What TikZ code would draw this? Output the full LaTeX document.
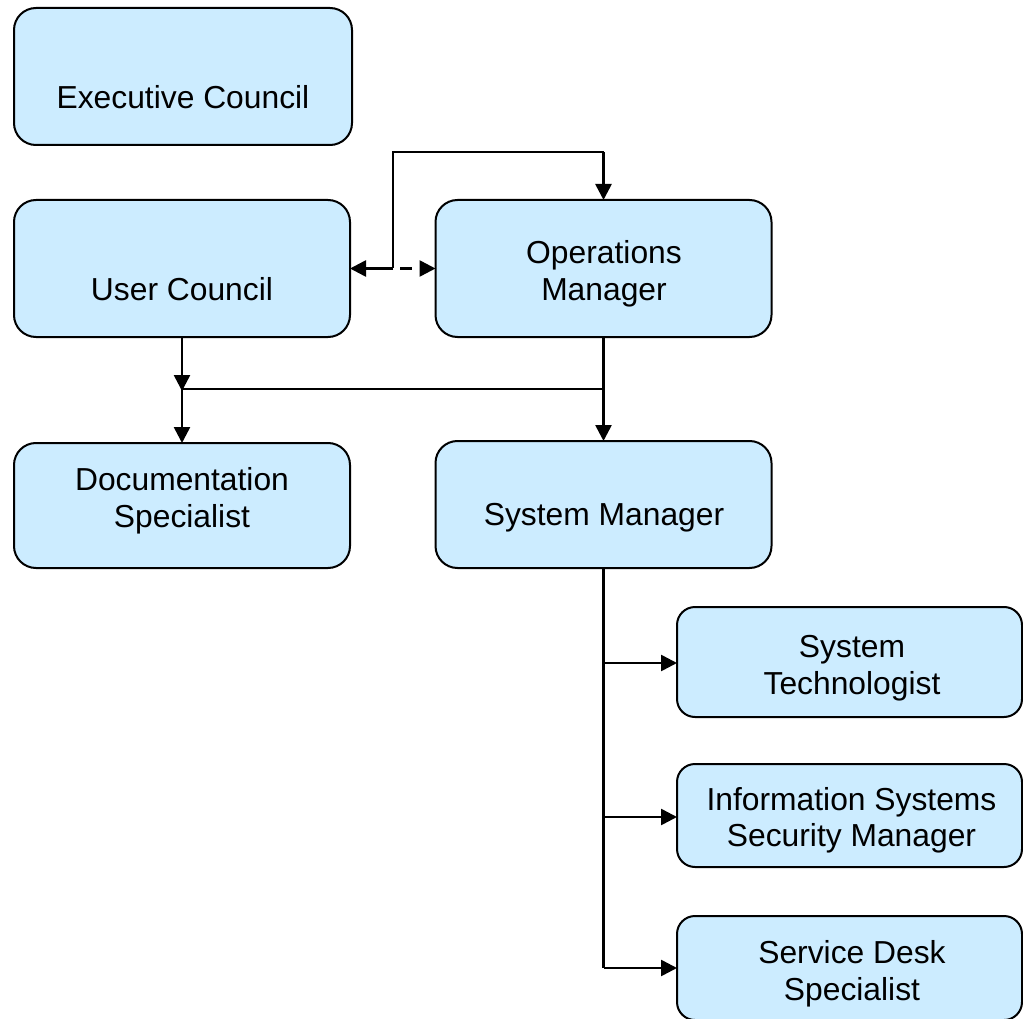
\documentclass[tikz,border=0pt]{standalone}
\usepackage{fontspec}
\setmainfont{Liberation Sans}
\usetikzlibrary{arrows.meta}
\definecolor{boxfill}{RGB}{204,236,255}
\begin{document}
\begin{tikzpicture}[x=1pt,y=-1pt,
  box/.style={draw=black, line width=2pt, fill=boxfill, rounded corners=22pt, inner sep=0pt, outer sep=0pt},
  sbox/.style={box, rounded corners=18pt},
  lbl/.style={font=\fontsize{31.8}{37}\selectfont, align=center, anchor=north, inner sep=0pt},
  conn/.style={line width=2.6pt, draw=black},
  arr/.style={conn, -{Triangle[length=16pt,width=16pt]}}
]
\useasboundingbox (0,0) rectangle (1023,1019);
% boxes
\node[box, minimum width=338pt, minimum height=137pt] (exec) at (183,76.5) {};
\node[box, minimum width=336pt, minimum height=137pt] (user) at (182,268.5) {};
\node[box, minimum width=336pt, minimum height=137pt] (ops) at (603.5,268.5) {};
\node[box, minimum width=336pt, minimum height=125pt] (doc) at (182,505.5) {};
\node[box, minimum width=336pt, minimum height=127pt] (sys) at (603.5,504.5) {};
\node[sbox, minimum width=345pt, minimum height=110pt] (tech) at (849.5,662) {};
\node[sbox, minimum width=345pt, minimum height=103pt] (issm) at (849.5,815.5) {};
\node[sbox, minimum width=345pt, minimum height=104pt] (desk) at (849.5,968) {};
% labels
\node[lbl] (execT) at (183,82.1) {\strut Executive Council};
\node[lbl] (userT) at (182,274.1) {\strut User Council};
\node[lbl] (opsT) at (604,237.1) {\strut Operations\\Manager};
\node[lbl] (docT) at (182,464.1) {\strut Documentation\\Specialist};
\node[lbl] (sysT) at (604,499.1) {\strut System Manager};
\node[lbl] (techT) at (852,631.1) {\strut System\\Technologist};
\node[lbl, font=\fontsize{31.8}{36}\selectfont] (issmT) at (851.5,784.8) {\strut Information Systems\\Security Manager};
\node[lbl] (deskT) at (852,937.1) {\strut Service Desk\\Specialist};
% junction coordinates
\coordinate (j1) at (393,268.5);
\coordinate (j2) at (393,152);
\coordinate (j3) at (603.5,152);
\coordinate (h1) at (182,389);
\coordinate (h2) at (603.5,389);
\coordinate (hu) at (182,391);
\coordinate (b1) at (603.5,663);
\coordinate (b2) at (603.5,817);
\coordinate (b3) at (603.5,968);
% connectors
\draw[arr] (j3) -- (ops.north);
\draw[conn] (j1) -- (j2) -- (j3);
\draw[arr] (j1) -- (user.east);
\draw[arr, dash pattern=on 12pt off 9pt, dash phase=14pt] (j1) -- (ops.west);
\draw[arr] (user.south) -- (hu);
\draw[arr] (h1) -- (doc.north);
\draw[conn] (h1) -- (h2);
\draw[arr] (ops.south) -- (sys.north);
\draw[conn] (sys.south) -- (b3);
\draw[arr] (b1) -- (b1 -| tech.west);
\draw[arr] (b2) -- (b2 -| issm.west);
\draw[arr] (b3) -- (b3 -| desk.west);
\end{tikzpicture}
\end{document}
